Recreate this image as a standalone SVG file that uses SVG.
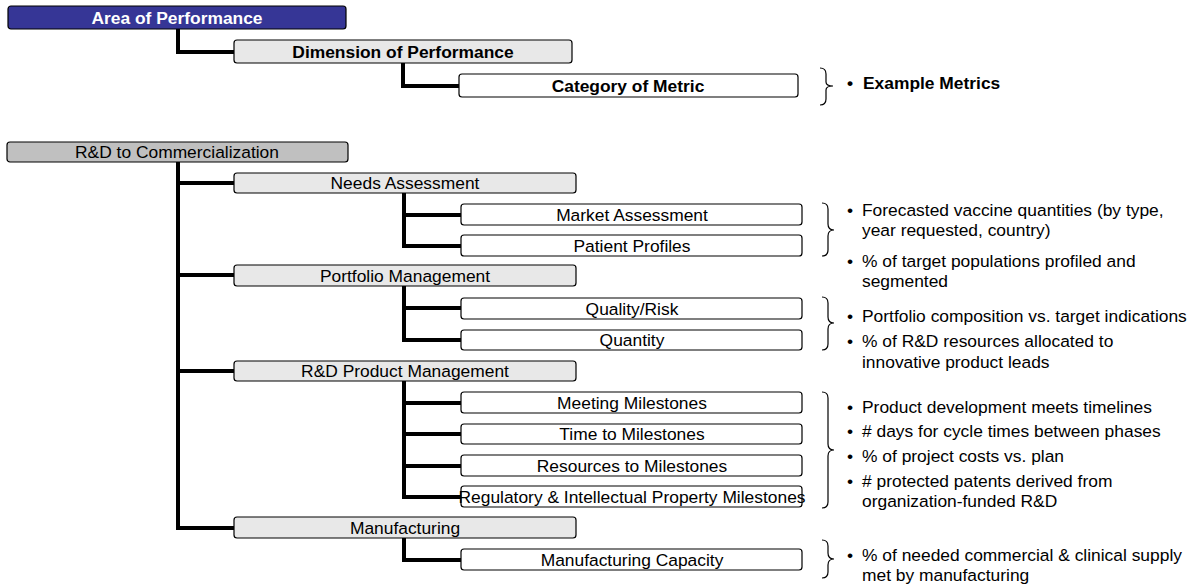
<svg xmlns="http://www.w3.org/2000/svg" width="1194" height="586" viewBox="0 0 1194 586">
<style>
.box{stroke:#000;stroke-width:1.2}
.l1{fill:#363696}
.l1g{fill:#c0c0c0}
.l2{fill:#e8e8e8}
.l3{fill:#fff}
text{font-family:"Liberation Sans",Arial,sans-serif;font-size:17.4px;fill:#000}
.c{text-anchor:middle}
.b{font-weight:bold}
.w{fill:#fff}
.conn{fill:none;stroke:#000;stroke-width:4;stroke-linejoin:miter}
.brace{fill:none;stroke:#000;stroke-width:1.2}
</style>
<rect width="1194" height="586" fill="#fff"/>
<g id="connectors">
<path class="conn" d="M178 29V52H234"/>
<path class="conn" d="M403 63V86H459"/>
<path class="conn" d="M178 162V528H234M178 183H234M178 275H234M178 371H234"/>
<path class="conn" d="M404 193V246H461M404 215H461"/>
<path class="conn" d="M404 286V340H461M404 308H461"/>
<path class="conn" d="M404 381V497H461M404 403H461M404 434H461M404 466H461"/>
<path class="conn" d="M404 538V560H461"/>
</g>
<g id="legend-area"><rect class="box l1" x="8" y="6" width="338" height="23" rx="3"/><text class="c b w" x="177" y="24">Area of Performance</text></g>
<g id="legend-dimension"><rect class="box l2" x="234" y="40" width="338" height="23" rx="3"/><text class="c b" x="403" y="58">Dimension of Performance</text></g>
<g id="legend-category"><rect class="box l3" x="459" y="74" width="339" height="23" rx="3"/><text class="c b" x="628" y="92">Category of Metric</text></g>
<g id="legend-metrics"><path class="brace" d="M820 68Q826 68 826 74V82Q826 86 833 86Q826 86 826 90V99Q826 105 820 105"/><text class="b" x="847" y="89">•</text><text class="b" x="863" y="89">Example Metrics</text></g>

<g id="rd"><rect class="box l1g" x="7" y="142" width="341" height="20" rx="3"/><text class="c" x="177" y="158">R&amp;D to Commercialization</text></g>
<g id="needs"><rect class="box l2" x="234" y="173" width="342" height="20" rx="3"/><text class="c" x="405" y="189">Needs Assessment</text></g>
<g id="market"><rect class="box l3" x="461" y="204" width="341" height="21" rx="3"/><text class="c" x="632" y="221">Market Assessment</text></g>
<g id="patient"><rect class="box l3" x="461" y="235" width="341" height="21" rx="3"/><text class="c" x="632" y="252">Patient Profiles</text></g>
<g id="portfolio"><rect class="box l2" x="234" y="265" width="342" height="21" rx="3"/><text class="c" x="405" y="282">Portfolio Management</text></g>
<g id="quality"><rect class="box l3" x="461" y="298" width="341" height="21" rx="3"/><text class="c" x="632" y="315">Quality/Risk</text></g>
<g id="quantity"><rect class="box l3" x="461" y="330" width="341" height="20" rx="3"/><text class="c" x="632" y="346">Quantity</text></g>
<g id="rdpm"><rect class="box l2" x="234" y="361" width="342" height="20" rx="3"/><text class="c" x="405" y="377">R&amp;D Product Management</text></g>
<g id="meeting"><rect class="box l3" x="461" y="392" width="341" height="21" rx="3"/><text class="c" x="632" y="409">Meeting Milestones</text></g>
<g id="time"><rect class="box l3" x="461" y="424" width="341" height="20" rx="3"/><text class="c" x="632" y="440">Time to Milestones</text></g>
<g id="resources"><rect class="box l3" x="461" y="455" width="341" height="21" rx="3"/><text class="c" x="632" y="472">Resources to Milestones</text></g>
<g id="regulatory"><rect class="box l3" x="461" y="486" width="341" height="21" rx="3"/><text class="c" x="632" y="503">Regulatory &amp; Intellectual Property Milestones</text></g>
<g id="manufacturing"><rect class="box l2" x="234" y="517" width="342" height="21" rx="3"/><text class="c" x="405" y="534">Manufacturing</text></g>
<g id="capacity"><rect class="box l3" x="461" y="549" width="341" height="21" rx="3"/><text class="c" x="632" y="566">Manufacturing Capacity</text></g>

<g id="metrics-needs"><path class="brace" d="M822 203Q828 203 828 209V224Q828 230 834 230Q828 230 828 236V250Q828 256 822 256"/>
<text x="847" y="216">•</text><text x="862" y="216">Forecasted vaccine quantities (by type,</text><text x="862" y="236">year requested, country)</text>
<text x="847" y="267">•</text><text x="862" y="267">% of target populations profiled and</text><text x="862" y="287">segmented</text></g>
<g id="metrics-portfolio"><path class="brace" d="M822 297Q828 297 828 303V317Q828 323 834 323Q828 323 828 329V344Q828 350 822 350"/>
<text x="847" y="322">•</text><text x="862" y="322">Portfolio composition vs. target indications</text>
<text x="847" y="347">•</text><text x="862" y="347">% of R&amp;D resources allocated to</text><text x="862" y="368">innovative product leads</text></g>
<g id="metrics-rdpm"><path class="brace" d="M822 392Q828 392 828 398V444Q828 450 834 450Q828 450 828 456V502Q828 508 822 508"/>
<text x="847" y="413">•</text><text x="862" y="413">Product development meets timelines</text>
<text x="847" y="437">•</text><text x="862" y="437">#  days for cycle times between phases</text>
<text x="847" y="462">•</text><text x="862" y="462">% of project costs vs. plan</text>
<text x="847" y="487">•</text><text x="862" y="487">#  protected patents derived from</text><text x="862" y="507">organization-funded R&amp;D</text></g>
<g id="metrics-mfg"><path class="brace" d="M822 540Q828 540 828 546V553Q828 559 834 559Q828 559 828 565V572Q828 578 822 578"/>
<text x="847" y="561">•</text><text x="862" y="561">% of needed commercial &amp; clinical supply</text><text x="862" y="581">met by manufacturing</text></g>
</svg>
